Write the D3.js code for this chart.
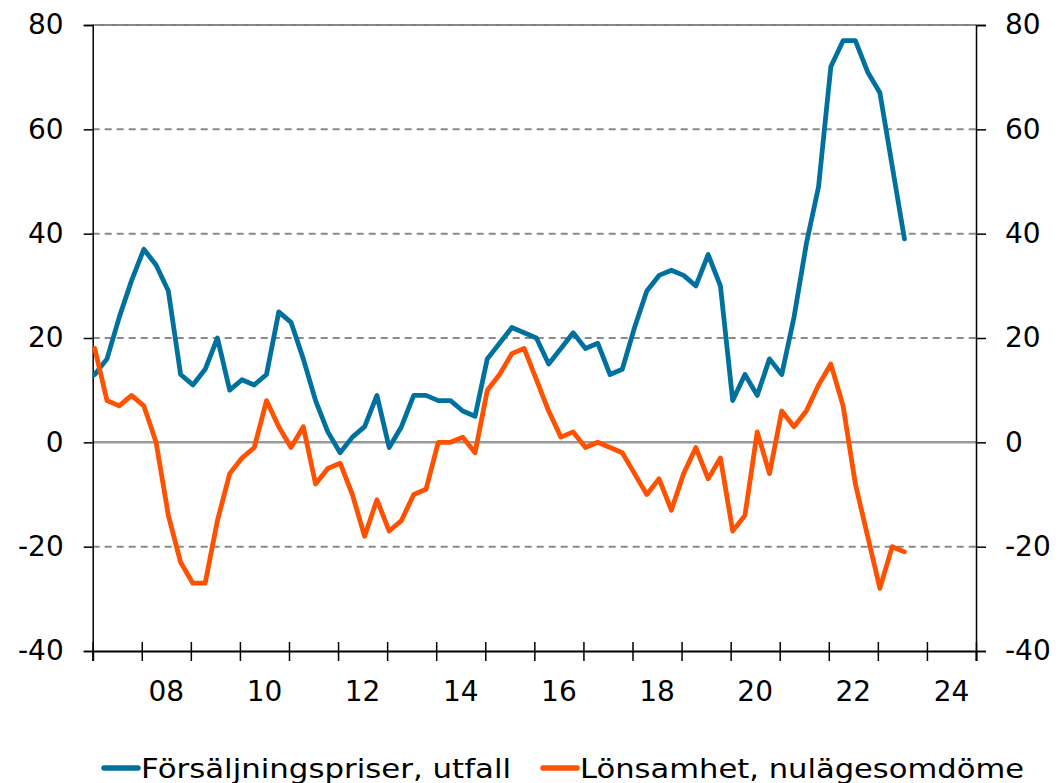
<!DOCTYPE html>
<html>
<head>
<meta charset="utf-8">
<script src="https://cdn.jsdelivr.net/npm/d3@7"></script>
<style>
  html, body { margin: 0; padding: 0; background: #fff; }
  svg { display: block; font-family: "DejaVu Sans", Verdana, sans-serif; }
</style>
</head>
<body>
<svg id="chart" width="1063" height="783"></svg>
<script>
// Quarterly observations, Q1 2007 – Q3 2023
const startYear = 2007;
const salesPrices = [
  13, 16, 24, 31, 37, 34, 29, 13, 11, 14, 20, 10, 12, 11, 13, 25,
  23, 16, 8, 2, -2, 1, 3, 9, -1, 3, 9, 9, 8, 8, 6, 5,
  16, 19, 22, 21, 20, 15, 18, 21, 18, 19, 13, 14, 22, 29, 32, 33,
  32, 30, 36, 30, 8, 13, 9, 16, 13, 24, 38, 49, 72, 77, 77, 71,
  67, 53, 39
];
const profitability = [
  18, 8, 7, 9, 7, 0, -14, -23, -27, -27, -15, -6, -3, -1, 8, 3,
  -1, 3, -8, -5, -4, -10, -18, -11, -17, -15, -10, -9, 0, 0, 1, -2,
  10, 13, 17, 18, 12, 6, 1, 2, -1, 0, -1, -2, -6, -10, -7, -13,
  -6, -1, -7, -3, -17, -14, 2, -6, 6, 3, 6, 11, 15, 7, -8, -18,
  -28, -20, -21
];
const seriesNames = ["Försäljningspriser, utfall", "Lönsamhet, nulägesomdöme"];
const seriesColors = ["#00719f", "#ff5100"];
const yTicks = [-40, -20, 0, 20, 40, 60, 80];
const xLabelYears = [2008, 2010, 2012, 2014, 2016, 2018, 2020, 2022, 2024];

const svg = d3.select("#chart");
const plotLeft = 92.7, plotRight = 976, plotTop = 25, plotBottom = 651;

const x = d3.scaleLinear().domain([2007, 2025]).range([plotLeft, plotRight]);
const y = d3.scaleLinear().domain([-40, 80]).range([plotBottom, plotTop]);

// date of each quarterly point (first month of the quarter)
const t = i => startYear + i / 4 + 1 / 24;

// frame top edge (under the dashed 80 line)
svg.append("line")
  .attr("x1", plotLeft).attr("x2", plotRight)
  .attr("y1", y(80)).attr("y2", y(80))
  .attr("stroke", "#000").attr("stroke-width", 1);

// horizontal grid
svg.append("g").selectAll("line")
  .data(yTicks.filter(v => v !== 0 && v !== -40))
  .join("line")
  .attr("x1", plotLeft).attr("x2", plotRight)
  .attr("y1", d => y(d)).attr("y2", d => y(d))
  .attr("stroke", "#8a8a8a").attr("stroke-width", 2)
  .attr("stroke-dasharray", "7,5");

// zero line
svg.append("line")
  .attr("x1", plotLeft).attr("x2", plotRight)
  .attr("y1", y(0)).attr("y2", y(0))
  .attr("stroke", "#999").attr("stroke-width", 2.5);

// left and right value axes (plain hyphen for negatives)
const fmt = d => String(d);
const yAxisL = d3.axisLeft(y).tickValues(yTicks).tickSize(9).tickPadding(20).tickFormat(fmt);
const yAxisR = d3.axisRight(y).tickValues(yTicks).tickSize(10).tickPadding(19).tickFormat(fmt);

function styleAxis(g) {
  g.select(".domain").attr("stroke", "#000").attr("stroke-width", 1.5);
  g.selectAll(".tick line").attr("stroke", "#000").attr("stroke-width", 1.5);
  g.selectAll(".tick text").attr("fill", "#000").style("font-size", "28px")
    .style("font-family", "'DejaVu Sans', Verdana, sans-serif");
}

svg.append("g").attr("transform", `translate(${plotLeft},0)`).call(yAxisL).call(styleAxis);
svg.append("g").attr("transform", `translate(${plotRight},0)`).call(yAxisR).call(styleAxis);

// time axis: ticks at year boundaries, labels centred in every other year
const xAxis = d3.axisBottom(x).tickValues(d3.range(2007, 2026)).tickSize(10).tickFormat("");
const xg = svg.append("g").attr("transform", `translate(0,${plotBottom})`).call(xAxis);
xg.select(".domain").attr("stroke", "#000").attr("stroke-width", 2);
xg.selectAll(".tick line").attr("stroke", "#000").attr("stroke-width", 1.5).attr("y1", -9);

svg.append("g").selectAll("text")
  .data(xLabelYears)
  .join("text")
  .attr("x", d => x(d + 0.5))
  .attr("y", 691)
  .attr("dy", "0.36em")
  .attr("text-anchor", "middle")
  .style("font-size", "28px")
  .text(d => String(d % 100).padStart(2, "0"));

// series lines
const line = d3.line().x((d, i) => x(t(i))).y(d => y(d));
[salesPrices, profitability].forEach((s, k) => {
  svg.append("path")
    .datum(s)
    .attr("d", line)
    .attr("fill", "none")
    .attr("stroke", seriesColors[k])
    .attr("stroke-width", 4.8)
    .attr("stroke-linejoin", "round")
    .attr("stroke-linecap", "round");
});

// legend
const legendX = [104, 543];
const legendW = [370, 444];
const leg = svg.append("g");
seriesNames.forEach((name, k) => {
  leg.append("line")
    .attr("x1", legendX[k]).attr("x2", legendX[k] + 34)
    .attr("y1", 768).attr("y2", 768)
    .attr("stroke", seriesColors[k]).attr("stroke-width", 5.5)
    .attr("stroke-linecap", "round");
  leg.append("text")
    .attr("x", legendX[k] + 37)
    .attr("y", 768)
    .attr("dy", "0.36em")
    .style("font-size", "27px")
    .attr("textLength", legendW[k])
    .attr("lengthAdjust", "spacingAndGlyphs")
    .text(name);
});
</script>
</body>
</html>
